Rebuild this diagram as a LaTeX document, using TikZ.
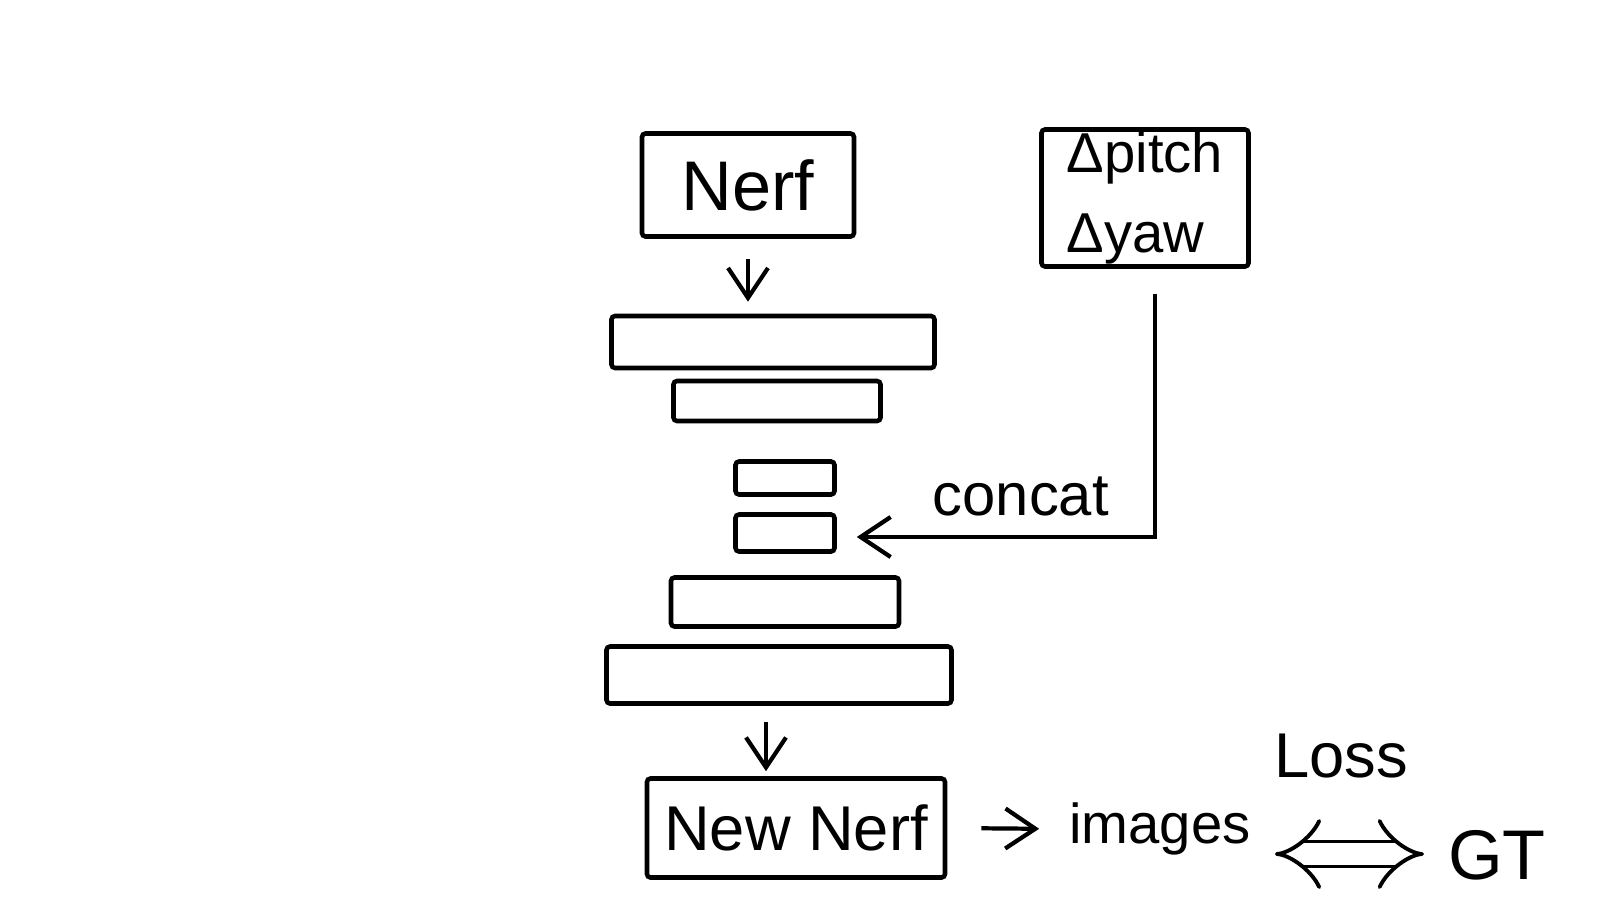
\documentclass[tikz,border=0pt]{standalone}
\usepackage{fontspec}
\setmainfont{Liberation Sans}
\usetikzlibrary{arrows.meta,positioning,calc}
\tikzset{
  box/.style={draw=black, line width=1.3pt, rounded corners=1pt, align=center, inner sep=0pt, font=\fontsize{20}{24}\selectfont},
  layer/.style={draw=black, line width=1.3pt, rounded corners=1pt, inner sep=0pt},
  lbl/.style={font=\fontsize{17}{20}\selectfont, inner sep=1pt},
  arr/.style={-{Straight Barb[length=3mm, width=4mm]}, line width=1.2pt},
  dbl/.style={{Implies}-{Implies}, double, double distance=6pt, line width=1.1pt},
}
\begin{document}
\begin{tikzpicture}
        \useasboundingbox (0,0) rectangle (16.24,-9);
        \node[box, minimum width=2.12cm, minimum height=1.03cm] (nerf) at (7.48,-1.85) {Nerf};
        \node[box, minimum width=2.07cm, minimum height=1.37cm, align=left, font=\fontsize{16}{23}\selectfont] (delta) at (11.45,-1.98) {Δpitch\\Δyaw};
        \node[layer, minimum width=3.23cm, minimum height=0.52cm] (l1) at (7.73,-3.42) {};
        \node[layer, minimum width=2.07cm, minimum height=0.40cm] (l2) at (7.77,-4.01) {};
        \node[layer, minimum width=0.99cm, minimum height=0.33cm] (l3) at (7.85,-4.78) {};
        \node[layer, minimum width=0.99cm, minimum height=0.37cm] (l4) at (7.85,-5.33) {};
        \node[layer, minimum width=2.28cm, minimum height=0.49cm] (l5) at (7.85,-6.02) {};
        \node[layer, minimum width=3.45cm, minimum height=0.57cm] (l6) at (7.79,-6.75) {};
        \node[box, minimum width=2.98cm, minimum height=0.99cm, font=\fontsize{18}{22}\selectfont] (newnerf) at (7.96,-8.28) {New Nerf};
        \node[lbl, font=\fontsize{16}{20}\selectfont] (images) at (11.6,-8.29) {images};
        \node[lbl, font=\fontsize{18}{22}\selectfont] (loss) at (13.41,-7.56) {Loss};
        \node[lbl, font=\fontsize{20}{24}\selectfont] (gt) at (14.97,-8.55) {GT};
        \coordinate (corner) at (11.55,-5.37);
        \draw[arr] ([yshift=-2mm]nerf.south) -- ([yshift=1.2mm]nerf.south |- l1.north);
        \draw[arr, shorten <=2.5mm] (corner |- delta.south) -- (corner) -- node[lbl, above=1.5mm, pos=0.45] (concat) {concat} ([xshift=2mm]l4.east |- corner);
        \draw[arr] ([xshift=-1.3mm, yshift=-1.6mm]l6.south) -- ([xshift=-1.3mm, yshift=0.5mm]l6.south |- newnerf.north);
        \draw[arr, shorten <=3.4mm, shorten >=2.6mm] (newnerf.east) -- (images.west);
        \draw[dbl, shorten <=2mm, shorten >=2mm] ([yshift=-2.5mm]images.east) -- ([yshift=-2.5mm]images.east -| gt.west);
      \end{tikzpicture}
\end{document}
